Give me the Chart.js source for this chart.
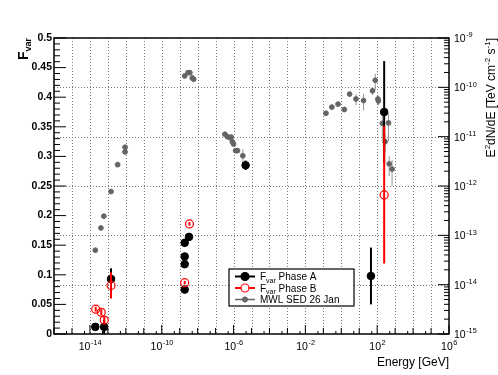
<!DOCTYPE html>
<html>
<head>
<meta charset="utf-8">
<script src="https://cdn.jsdelivr.net/npm/chart.js@4/dist/chart.umd.min.js"></script>
<style>
    html, body { margin: 0; padding: 0; background: #fff; }
</style>
</head>
<body>
<canvas id="myChart" width="498" height="375"></canvas>
<script>
// Fvar phase A (left axis)
const phaseAEnergy = [2.0e-14, 6.2e-14, 1.5e-13, 1.9e-9, 1.9e-9, 1.9e-9, 1.9e-9, 3.3e-9, 4.7e-6, 45, 245];
const phaseAFvar = [0.012, 0.012, 0.093, 0.154, 0.131, 0.118, 0.075, 0.164, 0.285, 0.098, 0.375];
const phaseAErr = [0.002, 0.012, 0.018, 0.003, 0.003, 0.003, 0.003, 0.003, 0.008, 0.048, 0.086];

// Fvar phase B (left axis)
const phaseBEnergy = [2.1e-14, 4.3e-14, 6.3e-14, 1.5e-13, 1.9e-9, 3.5e-9, 245];
const phaseBFvar = [0.042, 0.0366, 0.0236, 0.082, 0.0867, 0.186, 0.235];
const phaseBErr = [0.004, 0.005, 0.006, 0.022, 0.003, 0.003, 0.116];

// MWL SED 26 Jan (right axis, TeV cm-2 s-1)
const sedEnergy = [
    2.0e-14, 4.1e-14, 6.0e-14, 1.5e-13, 3.5e-13, 9.1e-13, 9.1e-13,
    1.9e-9, 2.9e-9, 3.7e-9, 5.0e-9, 6.0e-9,
    3.3e-7, 4.5e-7, 6.0e-7, 7.4e-7, 8.5e-7, 1.0e-6, 1.3e-6, 1.66e-6, 3.3e-6,
    0.14, 0.30, 0.66, 1.48, 2.9, 6.6, 17.4, 55, 78, 110, 117, 195, 275, 427, 468, 676,
];
const sedFlux = [
    5.0e-14, 1.41e-13, 2.45e-13, 7.7e-13, 2.7e-12, 4.9e-12, 6.1e-12,
    1.7e-10, 1.98e-10, 1.98e-10, 1.55e-10, 1.46e-10,
    1.12e-11, 1.0e-11, 9.6e-12, 9.8e-12, 7.9e-12, 7.1e-12, 5.2e-12, 5.2e-12, 4.1e-12,
    2.98e-11, 3.98e-11, 4.57e-11, 3.55e-11, 7.3e-11, 5.8e-11, 5.4e-11, 8.5e-11, 1.39e-10,
    5.8e-11, 5.3e-11, 1.86e-11, 7.9e-12, 1.9e-11, 2.8e-12, 2.2e-12,
];
const sedErr = [
    0, 0, 0, 0, 0, 0, 0,
    0, 0, 0, 0, 0,
    0.08e-11, 0.07e-11, 0.07e-11, 0.07e-11, 0.6e-12, 0.6e-12, 0.5e-12, 0.5e-12, 1.5e-12,
    0.25e-11, 0.3e-11, 0.35e-11, 0.4e-11, 0.9e-11, 1.5e-11, 2.0e-11, 1.5e-11, 0.5e-10,
    1.2e-11, 1.0e-11, 1.0e-11, 3.0e-12, 1.1e-11, 1.2e-12, 1.2e-12,
];

// axis ticks
const fvarTicks = ['0', '0.05', '0.1', '0.15', '0.2', '0.25', '0.3', '0.35', '0.4', '0.45', '0.5'];
const energyLabelExp = [-14, -10, -6, -2, 2, 6];
const fluxLabelExp = [-15, -14, -13, -12, -11, -10, -9];

const toPoints = (xs, ys) => xs.map((x, i) => ({ x, y: ys[i] }));
const FONT = '"Liberation Sans", Arial, Helvetica, sans-serif';

const drawPow = (ctx, exp, x, y, size, align) => {
    const base = '10';
    const sup = `${exp}`;
    ctx.font = `${size}px ${FONT}`;
    const wb = ctx.measureText(base).width;
    ctx.font = `${size * 0.7}px ${FONT}`;
    const ws = ctx.measureText(sup).width;
    let x0 = x;
    if (align === 'center') x0 = x - (wb + ws) / 2;
    ctx.textAlign = 'left';
    ctx.font = `${size}px ${FONT}`;
    ctx.fillText(base, x0, y);
    ctx.font = `${size * 0.7}px ${FONT}`;
    ctx.fillText(sup, x0 + wb + 0.5, y - size * 0.45);
};

// draws [text, size, shift] pieces along the current baseline, right-aligned at 0
const drawPieces = (ctx, pieces, bold) => {
    const w = pieces.map(([t, s]) => {
        ctx.font = `${bold ? 'bold ' : ''}${s}px ${FONT}`;
        return ctx.measureText(t).width;
    });
    let x = -w.reduce((a, b) => a + b, 0);
    ctx.textAlign = 'left';
    pieces.forEach(([t, s, dy], i) => {
        ctx.font = `${bold ? 'bold ' : ''}${s}px ${FONT}`;
        ctx.fillText(t, x, dy);
        x += w[i];
    });
};

const errorBars = {
    id: 'errorBars',
    beforeDatasetDraw(chart, args) {
        const ds = chart.data.datasets[args.index];
        if (!ds.errors) return;
        const { ctx } = chart;
        const xs = chart.scales.x;
        const ys = chart.scales[ds.yAxisID];
        ctx.save();
        ctx.strokeStyle = ds.errColor;
        ctx.lineWidth = ds.errWidth;
        ds.data.forEach((p, i) => {
            const e = ds.errors[i];
            if (!e) return;
            const x = xs.getPixelForValue(p.x);
            const lo = Math.max(p.y - e, ys.min);
            ctx.beginPath();
            ctx.moveTo(x, ys.getPixelForValue(p.y + e));
            ctx.lineTo(x, ys.getPixelForValue(lo));
            ctx.stroke();
        });
        ctx.restore();
    },
};

const rootFrame = {
    id: 'rootFrame',
    beforeDatasetsDraw(chart) {
        const { ctx, chartArea: a, scales } = chart;
        ctx.save();
        ctx.strokeStyle = '#777';
        ctx.lineWidth = 1;
        ctx.setLineDash([1, 2]);
        for (let p = -15; p < 6; p++) {
            const x = Math.round(scales.x.getPixelForValue(Math.pow(10, p))) + 0.5;
            ctx.beginPath(); ctx.moveTo(x, a.top); ctx.lineTo(x, a.bottom); ctx.stroke();
        }
        for (let p = -14; p < -9; p++) {
            const y = Math.round(scales.y2.getPixelForValue(Math.pow(10, p))) + 0.5;
            ctx.beginPath(); ctx.moveTo(a.left, y); ctx.lineTo(a.right, y); ctx.stroke();
        }
        ctx.restore();
    },
    afterDraw(chart) {
        const { ctx, chartArea: a, scales } = chart;
        ctx.save();
        ctx.strokeStyle = '#000';
        ctx.fillStyle = '#000';
        ctx.lineWidth = 1;

        // x ticks (inside)
        for (let p = -16; p <= 6; p++) {
            const x = scales.x.getPixelForValue(Math.pow(10, p));
            const len = energyLabelExp.includes(p) ? 9 : 6;
            ctx.beginPath(); ctx.moveTo(x, a.bottom); ctx.lineTo(x, a.bottom - len); ctx.stroke();
            if (p < 6) {
                const xm = scales.x.getPixelForValue(5 * Math.pow(10, p));
                ctx.beginPath(); ctx.moveTo(xm, a.bottom); ctx.lineTo(xm, a.bottom - 3); ctx.stroke();
            }
        }
        // left ticks
        for (let i = 0; i <= 50; i++) {
            const y = scales.y.getPixelForValue(i / 100);
            const len = i % 5 === 0 ? 12 : 6;
            ctx.beginPath(); ctx.moveTo(a.left, y); ctx.lineTo(a.left + len, y); ctx.stroke();
        }
        // right ticks
        for (let p = -15; p <= -9; p++) {
            const y = scales.y2.getPixelForValue(Math.pow(10, p));
            ctx.beginPath(); ctx.moveTo(a.right, y); ctx.lineTo(a.right - 11, y); ctx.stroke();
            if (p === -9) continue;
            for (let m = 2; m <= 9; m++) {
                const ym = scales.y2.getPixelForValue(m * Math.pow(10, p));
                ctx.beginPath(); ctx.moveTo(a.right, ym); ctx.lineTo(a.right - 5, ym); ctx.stroke();
            }
        }

        // frame
        ctx.lineWidth = 1.5;
        ctx.strokeRect(a.left, a.top, a.right - a.left, a.bottom - a.top);

        // left labels
        ctx.font = `bold 10.5px ${FONT}`;
        ctx.textAlign = 'right';
        ctx.textBaseline = 'middle';
        fvarTicks.forEach((t) => {
            ctx.fillText(t, a.left - 2, scales.y.getPixelForValue(parseFloat(t)));
        });
        ctx.textBaseline = 'alphabetic';

        // x labels
        energyLabelExp.forEach((p) => {
            drawPow(ctx, p, scales.x.getPixelForValue(Math.pow(10, p)), a.bottom + 16, 10.5, 'center');
        });
        // right labels
        fluxLabelExp.forEach((p) => {
            drawPow(ctx, p, a.right + 5, scales.y2.getPixelForValue(Math.pow(10, p)) + 4, 10.5, 'left');
        });

        // x title
        ctx.font = `12px ${FONT}`;
        ctx.textAlign = 'right';
        ctx.fillText('Energy [GeV]', a.right, 366);

        // left title
        ctx.save();
        ctx.translate(28, a.top);
        ctx.rotate(-Math.PI / 2);
        drawPieces(ctx, [['F', 14, 0], ['var', 9, 3]], true);
        ctx.restore();

        // right title
        ctx.save();
        ctx.translate(495, a.top);
        ctx.rotate(-Math.PI / 2);
        drawPieces(ctx, [
            ['E', 12, 0], ['2', 8, -5.5], ['dN/dE [TeV cm', 12, 0], ['-2', 8, -5.5],
            [' s', 12, 0], ['-1', 8, -5.5], [']', 12, 0],
        ], false);
        ctx.restore();

        // legend
        const lx = 229, ly = 269, lw = 125, lh = 37;
        ctx.fillStyle = '#fff';
        ctx.fillRect(lx, ly, lw, lh);
        ctx.lineWidth = 1.2;
        ctx.strokeStyle = '#000';
        ctx.strokeRect(lx, ly, lw, lh);
        const rows = [
            { y: 276.5, color: '#000', lw: 2, r: 4, fill: '#000', label: 'Phase A', sub: true },
            { y: 288, color: '#f00', lw: 2, r: 4, fill: '#fff', label: 'Phase B', sub: true },
            { y: 299.5, color: '#666', lw: 1.5, r: 2.3, fill: '#666', label: 'MWL SED 26 Jan', sub: false },
        ];
        rows.forEach((row) => {
            ctx.strokeStyle = row.color;
            ctx.lineWidth = row.lw;
            ctx.beginPath(); ctx.moveTo(235, row.y); ctx.lineTo(255, row.y); ctx.stroke();
            ctx.beginPath(); ctx.arc(245, row.y, row.r, 0, Math.PI * 2);
            ctx.fillStyle = row.fill; ctx.fill();
            ctx.lineWidth = 1.2; ctx.stroke();
            ctx.fillStyle = '#000';
            ctx.save();
            ctx.translate(0, row.y + 3.5);
            if (row.sub) {
                ctx.font = `10px ${FONT}`;
                ctx.textAlign = 'left';
                ctx.fillText('F', 260, 0);
                const wf = ctx.measureText('F').width;
                ctx.font = `7px ${FONT}`;
                ctx.fillText('var', 260 + wf, 2.5);
                const wv = ctx.measureText('var').width;
                ctx.font = `10px ${FONT}`;
                ctx.fillText(' ' + row.label, 260 + wf + wv, 0);
            } else {
                ctx.font = `10px ${FONT}`;
                ctx.textAlign = 'left';
                ctx.fillText(row.label, 260, 0);
            }
            ctx.restore();
        });
        ctx.restore();
    },
};

const hiddenAxis = {
    ticks: { display: false },
    grid: { display: false },
    border: { display: false },
};

new Chart(document.getElementById('myChart'), {
    type: 'scatter',
    data: {
        datasets: [
            {
                label: 'Fvar Phase B',
                data: toPoints(phaseBEnergy, phaseBFvar),
                yAxisID: 'y',
                errors: phaseBErr,
                errColor: '#f00',
                errWidth: 2,
                pointRadius: 4,
                pointBackgroundColor: 'rgba(0,0,0,0)',
                pointBorderColor: '#f00',
                pointBorderWidth: 1.2,
            },
            {
                label: 'Fvar Phase A',
                data: toPoints(phaseAEnergy, phaseAFvar),
                yAxisID: 'y',
                errors: phaseAErr,
                errColor: '#000',
                errWidth: 2,
                pointRadius: 3.8,
                pointBackgroundColor: '#000',
                pointBorderColor: '#000',
                pointBorderWidth: 1,
            },
            {
                label: 'MWL SED 26 Jan',
                data: toPoints(sedEnergy, sedFlux),
                yAxisID: 'y2',
                errors: sedErr,
                errColor: '#999',
                errWidth: 1,
                pointRadius: 2.4,
                pointBackgroundColor: '#646464',
                pointBorderColor: '#646464',
                pointBorderWidth: 1,
            },
        ],
    },
    options: {
        responsive: false,
        animation: false,
        layout: { padding: { left: 54, top: 38, right: 49, bottom: 41 } },
        plugins: { legend: { display: false }, tooltip: { enabled: false } },
        scales: {
            x: {
                type: 'logarithmic', min: 1e-16, max: 1e6, ...hiddenAxis,
                afterFit: (s) => { s.height = 0; },
            },
            y: {
                type: 'linear', position: 'left', min: 0, max: 0.5, ...hiddenAxis,
                afterFit: (s) => { s.width = 0; },
            },
            y2: {
                type: 'logarithmic', position: 'right', min: 1e-15, max: 1e-9, ...hiddenAxis,
                afterFit: (s) => { s.width = 0; },
            },
        },
    },
    plugins: [errorBars, rootFrame],
});
</script>
</body>
</html>
